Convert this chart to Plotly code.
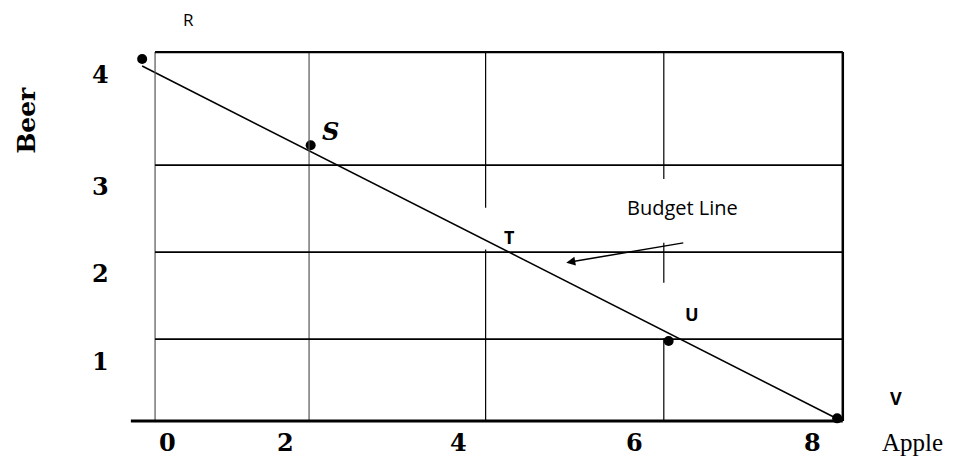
import plotly.graph_objects as go

# point positions (apple units across, beer units up)
point_names = ["R", "S", "U", "V"]
point_x = [-0.32, 1.77, 6.21, 8.30]
point_y = [4.16, 3.17, 0.92, 0.03]

# budget line end points
budget_x = [-0.32, 8.27]
budget_y = [4.08, 0.04]

# grid
grid_x = [-0.16, 1.75, 3.94, 6.15, 8.37]
grid_y = [0.94, 1.94, 2.94, 4.24]
box_left = -0.16
axis_left = -0.46
box_right = 8.37
box_top = 4.24

# tick labels (where they sit in the drawing)
xtick_text = ["0", "2", "4", "6", "8"]
xtick_pos = [0.0, 1.46, 3.60, 5.79, 8.0]
ytick_text = ["1", "2", "3", "4"]
ytick_pos = [0.68, 1.70, 2.69, 3.98]

# point labels
label_text = ["R", "S", "T", "U", "V"]
label_x = [0.25, 2.01, 4.24, 6.50, 9.03]
label_y = [4.62, 3.33, 2.11, 1.23, 0.26]

fig = go.Figure()

# vertical grid lines (some have small gaps in the drawing)
vsegments = [
    (grid_x[0], [(0, box_top)], "#555", 1.2),
    (grid_x[1], [(0, box_top)], "#555", 1.2),
    (grid_x[2], [(0, 1.97), (2.45, box_top)], "black", 1.2),
    (grid_x[3], [(0, 0.95), (1.59, 2.05), (2.78, box_top)], "black", 1.2),
    (grid_x[4], [(0, box_top)], "black", 2.5),
]
for gx, segs, col, w in vsegments:
    for y0, y1 in segs:
        fig.add_shape(type="line", x0=gx, x1=gx, y0=y0, y1=y1,
                      line=dict(color=col, width=w))

for gy in grid_y:
    fig.add_shape(type="line", x0=box_left, x1=box_right, y0=gy, y1=gy,
                  line=dict(color="black", width=2.2 if gy == box_top else 1.8))
# bottom axis
fig.add_shape(type="line", x0=axis_left, x1=box_right, y0=0, y1=0,
              line=dict(color="black", width=2.8))

# budget line
fig.add_trace(go.Scatter(x=budget_x, y=budget_y, mode="lines",
                         line=dict(color="black", width=1.5),
                         hoverinfo="skip", showlegend=False))

# dots
fig.add_trace(go.Scatter(x=point_x, y=point_y, mode="markers",
                         marker=dict(color="black", size=10),
                         text=point_names, showlegend=False))

num_font = dict(family="DejaVu Serif", size=24, color="black")
for t, p in zip(xtick_text, xtick_pos):
    fig.add_annotation(x=p, y=-0.25, text="<b>" + t + "</b>", showarrow=False,
                       font=num_font)
for t, p in zip(ytick_text, ytick_pos):
    fig.add_annotation(x=-0.84, y=p, text="<b>" + t + "</b>", showarrow=False,
                       font=num_font)

label_fonts = {
    "R": dict(family="Open Sans", size=17, color="black"),
    "S": dict(family="DejaVu Serif", size=24, color="black"),
    "T": dict(family="Open Sans", size=18, color="black"),
    "U": dict(family="Open Sans", size=18, color="black"),
    "V": dict(family="Open Sans", size=18, color="black"),
}
for t, lx, ly in zip(label_text, label_x, label_y):
    txt = t if t == "R" else "<b>" + t + "</b>"
    if t == "S":
        txt = "<b><i>S</i></b>"
    fig.add_annotation(x=lx, y=ly, text=txt, showarrow=False, font=label_fonts[t])

fig.add_annotation(x=6.38, y=2.45, text="Budget Line", showarrow=False,
                   font=dict(family="Open Sans", size=20, color="black"))
fig.add_annotation(x=9.23, y=-0.25, text="Apple", showarrow=False,
                   font=dict(family="Liberation Serif", size=25, color="black"))
fig.add_annotation(x=-1.75, y=3.46, text="<b>Beer</b>", showarrow=False, textangle=-90,
                   font=dict(family="DejaVu Serif", size=25, color="black"))

# arrow pointing at the budget line
fig.add_annotation(x=4.94, y=1.82, ax=6.41, ay=2.05, axref="x", ayref="y",
                   xref="x", yref="y", text="", showarrow=True,
                   arrowhead=2, arrowsize=1.2, arrowwidth=1.5, arrowcolor="black")

# the page puts the figure 8px in from the top-left corner, ranges account for it
fig.update_layout(
    width=958, height=459,
    margin=dict(l=0, r=0, t=0, b=0),
    paper_bgcolor="white", plot_bgcolor="white",
    xaxis=dict(range=[-1.984, 9.898], visible=False),
    yaxis=dict(range=[-0.529, 4.747], visible=False),
)

fig.write_html("out.html")
